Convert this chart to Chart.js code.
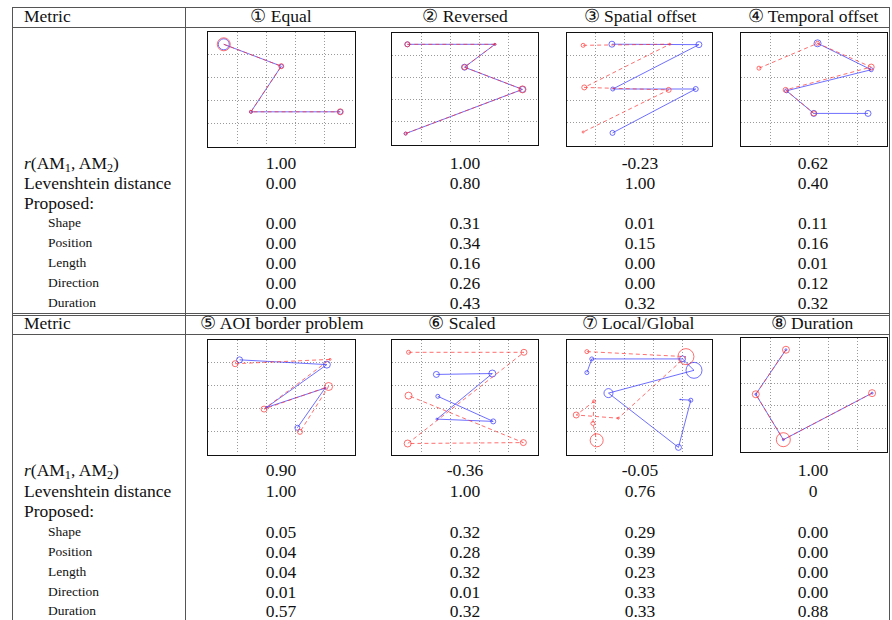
<!DOCTYPE html>
<html>
<head>
<meta charset="utf-8">
<script src="https://cdn.jsdelivr.net/npm/chart.js@4/dist/chart.umd.min.js"></script>
<style>
    body { margin: 0; background: #fff; width: 892px; height: 620px; overflow: hidden; position: relative;
           font-family: "Liberation Serif", "Times New Roman", serif; color: #111; }
    .t { position: absolute; white-space: nowrap; line-height: 20px; height: 20px; }
    .c { text-align: center; width: 240px; }
    .big { font-size: 17.5px; }
    .small { font-size: 13.5px; }
    .hl { position: absolute; height: 1px; background: #555; }
    .vl { position: absolute; width: 1px; background: #555; }
    .frame { position: absolute; border: 1.5px solid #111; box-sizing: border-box; }
    .frame canvas { display: block; }
    sub { font-size: 70%; vertical-align: -3px; line-height: 0; }
</style>
</head>
<body>
<script>
// === table text ===
const headersTop = ["\u2460 Equal", "\u2461 Reversed", "\u2462 Spatial offset", "\u2463 Temporal offset"];
const headersBottom = ["\u2464 AOI border problem", "\u2465 Scaled", "\u2466 Local/Global", "\u2467 Duration"];
const rowLabels = ["<i>r</i>(AM<sub>1</sub>, AM<sub>2</sub>)", "Levenshtein distance", "Proposed:",
                   "Shape", "Position", "Length", "Direction", "Duration"];

// one value per case ①..⑧
const correlation = ["1.00", "1.00", "-0.23", "0.62", "0.90", "-0.36", "-0.05", "1.00"];
const levenshtein = ["0.00", "0.80", "1.00", "0.40", "1.00", "1.00", "0.76", "0"];
const shape       = ["0.00", "0.31", "0.01", "0.11", "0.05", "0.32", "0.29", "0.00"];
const position    = ["0.00", "0.34", "0.15", "0.16", "0.04", "0.28", "0.39", "0.00"];
const lengthVals  = ["0.00", "0.16", "0.00", "0.01", "0.04", "0.32", "0.23", "0.00"];
const direction   = ["0.00", "0.26", "0.00", "0.12", "0.01", "0.01", "0.33", "0.00"];
const duration    = ["0.00", "0.43", "0.32", "0.32", "0.57", "0.32", "0.33", "0.88"];

// === scanpaths: [x, y, fixation duration] on a 5x5 grid ===
const equalRed    = [[0.54, 4.46, 6.5], [2.51, 3.5, 2.5], [1.47, 1.5, 1.5], [4.53, 1.5, 3]];
const equalBlue   = [[0.54, 4.46, 5.5], [2.51, 3.5, 2], [1.47, 1.5, 1.5], [4.53, 1.5, 2.5]];
const reversedRed  = [[0.53, 4.49, 2.5], [3.55, 4.49, 1], [2.5, 3.46, 2.5], [4.5, 2.46, 3.5], [0.47, 0.47, 1.5]];
const reversedBlue = [[0.47, 0.47, 1.5], [4.5, 2.46, 3], [2.5, 3.46, 3], [3.55, 4.49, 1], [0.53, 4.49, 2.5]];
const spatialRed  = [[0.56, 4.45, 2], [3.57, 4.5, 1], [0.6, 2.57, 2.5], [3.53, 2.46, 2.5], [0.56, 0.58, 1]];
const spatialBlue = [[1.56, 4.5, 3], [4.58, 4.48, 3], [1.59, 2.5, 2], [4.47, 2.5, 2.5], [1.58, 0.54, 2.5]];
const temporalRed  = [[0.62, 3.43, 2], [2.64, 4.54, 2], [4.49, 3.48, 3], [1.54, 2.46, 2.5], [2.51, 1.41, 2.5]];
const temporalBlue = [[2.64, 4.54, 3.5], [4.49, 3.36, 2], [1.57, 2.42, 2], [2.51, 1.41, 3], [4.38, 1.41, 3]];
const aoiRed  = [[0.93, 3.96, 3], [4.18, 4.15, 1], [1.92, 1.97, 3], [4.13, 2.96, 4], [3.15, 0.97, 2.5]];
const aoiBlue = [[1.08, 4.13, 3], [4.07, 3.92, 3.5], [2.0, 2.04, 1], [4.01, 2.89, 1], [3.06, 1.15, 2.5]];
const scaledRed  = [[0.57, 4.46, 2], [4.55, 4.46, 3], [0.54, 0.46, 3.5], [4.53, 0.5, 3], [0.57, 2.56, 3.5]];
const scaledBlue = [[1.53, 3.49, 3], [3.46, 3.53, 3.5], [1.55, 1.53, 1], [3.49, 1.43, 2.5], [1.58, 2.53, 2]];
const localRed  = [[0.69, 4.49, 2], [4.13, 4.27, 8], [1.78, 1.57, 1], [0.32, 1.71, 3],
                   [0.94, 2.31, 1.5], [0.9, 1.34, 2], [1.03, 0.6, 6.5]];
const localBlue = [[0.69, 3.57, 2], [0.86, 4.17, 2], [4.01, 4.17, 3], [4.41, 3.67, 8],
                   [1.44, 2.67, 4.5], [3.87, 0.29, 3], [4.3, 2.36, 2], [3.93, 2.39, 0.5]];
const durRed  = [[1.55, 4.48, 3.5], [0.51, 2.51, 3.5], [1.46, 0.5, 7], [4.52, 2.56, 3.5]];
const durBlue = [[1.55, 4.48, 1], [0.51, 2.51, 1], [1.46, 0.5, 1], [4.52, 2.56, 1]];

const scanpaths = [
    [equalRed, equalBlue], [reversedRed, reversedBlue], [spatialRed, spatialBlue], [temporalRed, temporalBlue],
    [aoiRed, aoiBlue], [scaledRed, scaledBlue], [localRed, localBlue], [durRed, durBlue]
];

// === layout ===
const RED = "rgba(255,50,50,0.7)";
const BLUE = "rgba(50,50,255,0.7)";
const colCenters = [281, 465, 640, 813];
const headerCentersBottom = [282, 462, 638, 812];
const rowYTop = [163, 183, 203, 223, 243, 263, 283, 303];
const rowYBottom = [470, 491, 511, 532, 552, 572, 592, 611];
const frames = [
    [207, 31, 149, 117], [391, 32, 148, 114], [566, 32, 147, 115], [740, 32, 148, 115],
    [207, 339, 149, 117], [391, 339, 148, 117], [566, 339, 147, 117], [740, 337, 148, 116]
];

const addEl = (cls, html, x, y, w) => {
    const el = document.createElement("div");
    el.className = cls;
    el.innerHTML = html;
    el.style.left = x + "px";
    el.style.top = y + "px";
    if (w !== undefined) el.style.width = w + "px";
    document.body.appendChild(el);
    return el;
};

const hLine = (y, x1, x2) => addEl("hl", "", x1, y, x2 - x1);
const vLine = (x, y1, y2) => {
    const el = addEl("vl", "", x, y1);
    el.style.height = (y2 - y1) + "px";
};

// rules
hLine(7, 12, 890);
hLine(27, 12, 890);
hLine(313, 12, 890);
hLine(315, 12, 890);
hLine(334, 12, 890);
vLine(12, 7, 620);
vLine(185, 7, 620);
vLine(889, 7, 620);

// headers
addEl("t big", "Metric", 24, 6);
addEl("t big", "Metric", 24, 313);
headersTop.forEach((h, i) => addEl("t c big", h, colCenters[i] - 120, 6));
headersBottom.forEach((h, i) => addEl("t c big", h, headerCentersBottom[i] - 120, 313));

// row labels + values
const valueRows = [correlation, levenshtein, null, shape, position, lengthVals, direction, duration];
[rowYTop, rowYBottom].forEach((rowY, block) => {
    rowLabels.forEach((lab, r) => {
        const sub = r >= 3;
        addEl(sub ? "t small" : "t big", lab, sub ? 48 : 24, rowY[r] - 10);
        const vals = valueRows[r];
        if (!vals) return;
        for (let i = 0; i < 4; i++) {
            addEl("t c big", vals[block * 4 + i], colCenters[i] - 120, rowY[r] - 10);
        }
    });
});

// === scanpath charts ===
const axis = {
    type: "linear",
    min: 0,
    max: 5,
    ticks: { display: false, stepSize: 1 },
    grid: {
        drawTicks: false,
        lineWidth: 1,
        color: (ctx) => (ctx.tick && (ctx.tick.value === 0 || ctx.tick.value === 5)) ? "rgba(0,0,0,0)" : "#9a9a9a"
    },
    border: { display: false, dash: [1, 2] }
};

const toPoints = (path) => path.map(p => ({ x: p[0], y: p[1] }));

scanpaths.forEach(([red, blue], i) => {
    const [x, y, w, h] = frames[i];
    const frame = addEl("frame", "", x, y, w);
    frame.style.height = h + "px";
    const canvas = document.createElement("canvas");
    canvas.width = w - 3;
    canvas.height = h - 3;
    frame.appendChild(canvas);

    new Chart(canvas, {
        type: "scatter",
        data: {
            datasets: [{
                data: toPoints(red),
                showLine: true,
                borderColor: RED,
                borderWidth: 1,
                borderDash: [4, 3],
                pointRadius: red.map(p => p[2]),
                pointBorderColor: RED,
                pointBackgroundColor: "rgba(0,0,0,0)",
                pointBorderWidth: 1,
                clip: false
            }, {
                data: toPoints(blue),
                showLine: true,
                borderColor: BLUE,
                borderWidth: 1,
                pointRadius: blue.map(p => p[2]),
                pointBorderColor: BLUE,
                pointBackgroundColor: "rgba(0,0,0,0)",
                pointBorderWidth: 1,
                clip: false
            }]
        },
        options: {
            responsive: false,
            animation: false,
            events: [],
            layout: { padding: 0, autoPadding: false },
            plugins: { legend: { display: false }, tooltip: { enabled: false } },
            scales: { x: axis, y: axis }
        }
    });
});
</script>
</body>
</html>
